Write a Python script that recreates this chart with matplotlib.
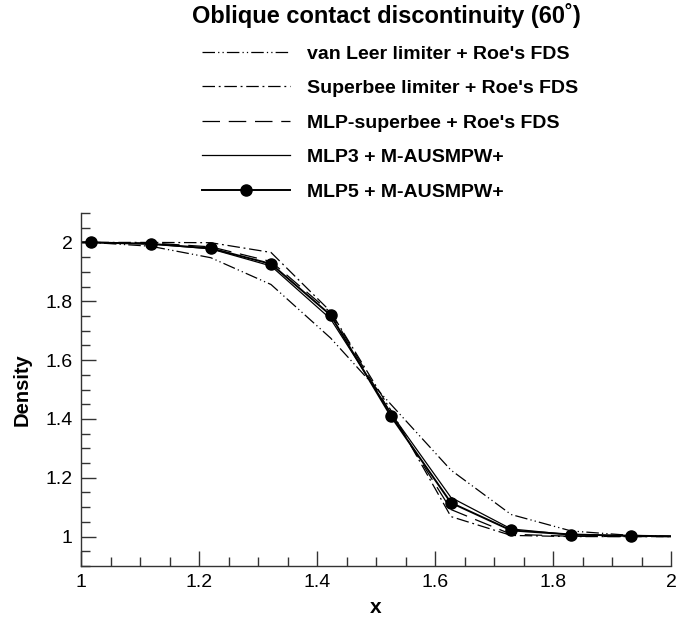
import matplotlib
matplotlib.use("Agg")
import matplotlib.pyplot as plt
from matplotlib.ticker import MultipleLocator

plt.rcParams['font.family'] = ['Liberation Sans', 'DejaVu Sans']

# cell positions along the cut (one extra cell at each end, clipped by the axes)
x = [0.915, 1.017, 1.118, 1.220, 1.322, 1.423, 1.525, 1.627, 1.729, 1.831, 1.932, 2.034]

rho_vanleer = [2.0, 2.0, 1.987, 1.948, 1.857, 1.675, 1.450, 1.226, 1.075, 1.019, 1.004, 1.0]
rho_superbee = [2.0, 2.0, 2.0, 1.999, 1.966, 1.765, 1.430, 1.068, 1.004, 1.0, 1.0, 1.0]
rho_mlpsb = [2.0, 2.0, 1.998, 1.985, 1.935, 1.762, 1.420, 1.092, 1.008, 1.001, 1.0, 1.0]
rho_mlp3 = [2.0, 2.0, 1.995, 1.978, 1.920, 1.740, 1.420, 1.133, 1.026, 1.006, 1.002, 1.0]
rho_mlp5 = [2.0, 2.0, 1.995, 1.980, 1.927, 1.753, 1.410, 1.115, 1.021, 1.007, 1.003, 1.0]

labels = ["van Leer limiter + Roe's FDS",
          "Superbee limiter + Roe's FDS",
          "MLP-superbee + Roe's FDS",
          "MLP3 + M-AUSMPW+",
          "MLP5 + M-AUSMPW+"]

fig = plt.figure(figsize=(6.76, 6.23), dpi=100)
ax = fig.add_axes([81/676, 1 - 566/623, 590/676, 353/623])

ax.plot(x, rho_vanleer, color='black', lw=0.9, dashes=(10, 2.5, 1, 2.5, 1, 2.5), label=labels[0])
ax.plot(x, rho_superbee, color='black', lw=0.9, dashes=(10, 3, 1.5, 3), label=labels[1])
ax.plot(x, rho_mlpsb, color='black', lw=0.9, dashes=(14, 7), label=labels[2])
ax.plot(x, rho_mlp3, color='black', lw=0.9, label=labels[3])
ax.plot(x, rho_mlp5, color='black', lw=1.4, marker='o', ms=8, markevery=slice(1, 11), label=labels[4])

ax.set_xlim(1, 2)
ax.set_ylim(0.9, 2.1)
ax.xaxis.set_minor_locator(MultipleLocator(0.05))
ax.yaxis.set_minor_locator(MultipleLocator(0.05))
ax.set_xticks([1, 1.2, 1.4, 1.6, 1.8, 2])
ax.set_xticklabels(['1', '1.2', '1.4', '1.6', '1.8', '2'])
ax.set_yticks([1, 1.2, 1.4, 1.6, 1.8, 2])
ax.set_yticklabels(['1', '1.2', '1.4', '1.6', '1.8', '2'])

for side in ['top', 'right']:
    ax.spines[side].set_visible(False)
for side in ['left', 'bottom']:
    ax.spines[side].set_color('#333333')
    ax.spines[side].set_linewidth(1.0)

ax.tick_params(which='both', direction='in', colors='#333333', labelcolor='black', labelsize=14)
ax.tick_params(which='major', length=10.5, width=1.0, pad=6)
ax.tick_params(which='minor', length=6.5, width=1.0)

ax.set_xlabel('x', fontsize=15, fontweight='bold', labelpad=5)
ax.set_ylabel('Density', fontsize=14.5, fontweight='bold', labelpad=10)

fig.text(386/676, 1 - 16/623, 'Oblique contact discontinuity (60˚)',
         ha='center', va='center', fontsize=17, fontweight='bold')

handles, labs = ax.get_legend_handles_labels()
leg = fig.legend(handles, labs, loc='upper left', bbox_to_anchor=(202/676, 1 - 45/623),
                 frameon=False, fontsize=14, borderpad=0, borderaxespad=0,
                 handlelength=4.5, handletextpad=0.9, labelspacing=0.87)
for t in leg.get_texts():
    t.set_fontweight('bold')

fig.savefig('out.png', dpi=100)
